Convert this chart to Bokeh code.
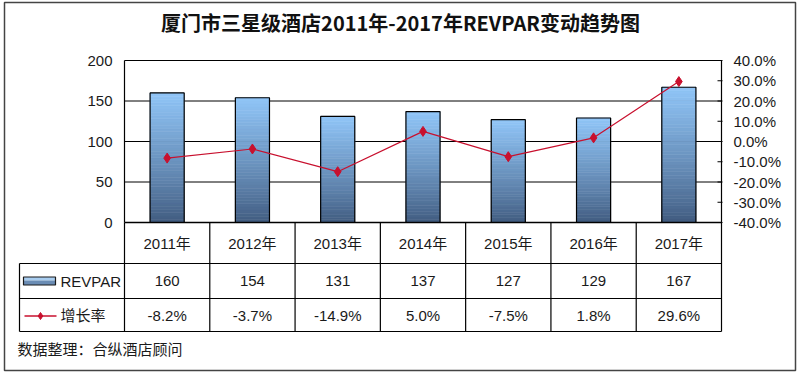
import numpy as np
from bokeh.plotting import figure
from bokeh.models import Range1d
from bokeh.core.properties import value
from bokeh.embed import file_html
from bokeh.resources import INLINE

# ---------------- data ----------------
chart_title = "厦门市三星级酒店2011年-2017年REVPAR变动趋势图"
years = ["2011年", "2012年", "2013年", "2014年", "2015年", "2016年", "2017年"]
revpar = [160, 154, 131, 137, 127, 129, 167]
growth = [-8.2, -3.7, -14.9, 5.0, -7.5, 1.8, 29.6]
left_ticks = [0, 50, 100, 150, 200]
right_ticks = [40, 30, 20, 10, 0, -10, -20, -30, -40]
series_names = ["REVPAR", "增长率"]
source_note = "数据整理：合纵酒店顾问"

# ---------------- layout (pixels) ----------------
W, H = 800, 376
FX0, FX1 = 124, 721          # plot area left / right
FY_TOP, FY0 = 60, 222        # pixel rows of the axis max and of 0
ROW1, ROW2, ROW3 = 263, 298, 331
LEG_X = 19
n = len(years)
colw = (FX1 - FX0) / n
ppu = (FY0 - FY_TOP) / max(left_ticks)
ppp = (FY0 - FY_TOP) / (max(right_ticks) - min(right_ticks))
pct_mid = FY0 - (0 - min(right_ticks)) * ppp

NUM_FONT = value("Liberation Sans, Noto Sans CJK SC")
CJK_FONT = value("Noto Sans CJK SC")
TXT = "#1a1a1a"
RED = "#c8102e"

p = figure(width=W, height=H,
           x_range=Range1d(-FX0 / colw, (W - FX0) / colw),
           y_range=Range1d(-(H - FY0) / ppu, FY0 / ppu),
           output_backend="svg", toolbar_location=None,
           x_axis_type=None, y_axis_type=None, min_border=0, tools="")
p.extra_x_ranges = {"px": Range1d(0, W)}
p.extra_y_ranges = {"px": Range1d(H, 0),
                    "pct": Range1d(-(H - pct_mid) / ppp, pct_mid / ppp)}
p.outline_line_color = None
p.background_fill_color = "white"
p.border_fill_color = "white"

xs = [i + 0.5 for i in range(n)]

# gridlines
gt = [t for t in left_ticks if t > 0]
p.segment(x0=[0] * len(gt), x1=[n] * len(gt), y0=gt, y1=gt, line_color="black", line_width=1)

# gradient bars
N = 40
top_c = np.array([145, 198, 248])
bot_c = np.array([64, 90, 126])
bx, bb, bt, bc = [], [], [], []
for x, v in zip(xs, revpar):
    for k in range(N):
        f = ((k + 0.5) / N) ** 0.85
        c = (bot_c + (top_c - bot_c) * f).astype(int)
        bx.append(x); bb.append(v * k / N); bt.append(v * (k + 1) / N)
        bc.append("#%02x%02x%02x" % tuple(c))
p.vbar(x=bx, width=0.4, bottom=bb, top=bt, fill_color=bc, line_color=bc, line_width=0.6)
p.vbar(x=xs, width=0.4, bottom=0, top=revpar, fill_color=None, line_color="black", line_width=1.2)

# plot frame left/right, zero line
p.segment(x0=[0, n], x1=[0, n], y0=[0, 0], y1=[max(left_ticks)] * 2, line_color="black", line_width=1.2)
p.segment(x0=[0], x1=[n], y0=[0], y1=[0], line_color="black", line_width=1.5)

# growth line
p.line(x=xs, y=growth, y_range_name="pct", line_color=RED, line_width=1.2)
p.scatter(x=xs, y=growth, y_range_name="pct", marker="diamond", size=10,
          fill_color=RED, line_color=RED)

# left tick labels
p.text(x=[FX0 - 12] * len(left_ticks), y=left_ticks, x_range_name="px",
       text=[str(t) for t in left_ticks], text_align="right", text_baseline="middle",
       text_font=NUM_FONT, text_font_size="15px", text_color=TXT)
# right tick labels + small ticks
p.text(x=[FX1 + 12] * len(right_ticks), y=right_ticks, x_range_name="px", y_range_name="pct",
       text=["%.1f%%" % t for t in right_ticks], text_align="left", text_baseline="middle",
       text_font=NUM_FONT, text_font_size="15px", text_color=TXT)
p.segment(x0=[FX1 - 4] * len(right_ticks), x1=[FX1 + 1] * len(right_ticks),
          y0=right_ticks, y1=right_ticks, x_range_name="px", y_range_name="pct",
          line_color="black", line_width=1)

# table: vertical lines
p.segment(x0=list(range(n + 1)), x1=list(range(n + 1)), y0=[FY0] * (n + 1), y1=[ROW3] * (n + 1),
          y_range_name="px", line_color="black", line_width=1.2)
# table: horizontal lines + left border
p.segment(x0=[LEG_X] * 3, x1=[FX1] * 3, y0=[ROW1, ROW2, ROW3], y1=[ROW1, ROW2, ROW3],
          x_range_name="px", y_range_name="px", line_color="black", line_width=1.2)
p.segment(x0=[LEG_X], x1=[LEG_X], y0=[ROW1], y1=[ROW3],
          x_range_name="px", y_range_name="px", line_color="black", line_width=1.2)

# table texts
p.text(x=xs, y=[(FY0 + ROW1) / 2] * n, y_range_name="px", text=years,
       text_align="center", text_baseline="middle", text_font=NUM_FONT,
       text_font_size="15px", text_color=TXT)
p.text(x=xs, y=[(ROW1 + ROW2) / 2] * n, y_range_name="px", text=[str(v) for v in revpar],
       text_align="center", text_baseline="middle", text_font=NUM_FONT,
       text_font_size="15px", text_color=TXT)
p.text(x=xs, y=[(ROW2 + ROW3) / 2] * n, y_range_name="px", text=["%.1f%%" % g for g in growth],
       text_align="center", text_baseline="middle", text_font=NUM_FONT,
       text_font_size="15px", text_color=TXT)

# legend keys
r1 = (ROW1 + ROW2) / 2
r2 = (ROW2 + ROW3) / 2
p.quad(left=[23], right=[55], top=[r1 - 4], bottom=[r1 - 0.5], x_range_name="px", y_range_name="px",
       fill_color="#a8cdf0", line_color=None)
p.quad(left=[23], right=[55], top=[r1 - 0.5], bottom=[r1 + 4], x_range_name="px", y_range_name="px",
       fill_color="#6a8cb4", line_color=None)
p.quad(left=[23], right=[55], top=[r1 - 4], bottom=[r1 + 4], x_range_name="px", y_range_name="px",
       fill_color=None, line_color="#1a1a1a", line_width=1.2)
p.segment(x0=[24], x1=[56], y0=[r2 + 1], y1=[r2 + 1], x_range_name="px", y_range_name="px",
          line_color=RED, line_width=1.5)
p.scatter(x=[40], y=[r2 + 1], x_range_name="px", y_range_name="px", marker="diamond", size=7,
          fill_color=RED, line_color=RED)
p.text(x=[60, 60], y=[r1, r2], x_range_name="px", y_range_name="px", text=series_names,
       text_align="left", text_baseline="middle", text_font=NUM_FONT,
       text_font_size="15px", text_color=TXT)

# title, source note
p.text(x=[W / 2], y=[22], x_range_name="px", y_range_name="px", text=[chart_title],
       text_align="center", text_baseline="middle", text_font=CJK_FONT,
       text_font_style="bold", text_font_size="20px", text_color="#111111")
p.text(x=[17], y=[348], x_range_name="px", y_range_name="px", text=[source_note],
       text_align="left", text_baseline="middle", text_font=CJK_FONT,
       text_font_size="15px", text_color=TXT)

# outer border
p.quad(left=[4], right=[795], top=[2], bottom=[370], x_range_name="px", y_range_name="px",
       fill_color=None, line_color="#444444", line_width=1.5)

open("out.html", "w").write(file_html(p, INLINE))
